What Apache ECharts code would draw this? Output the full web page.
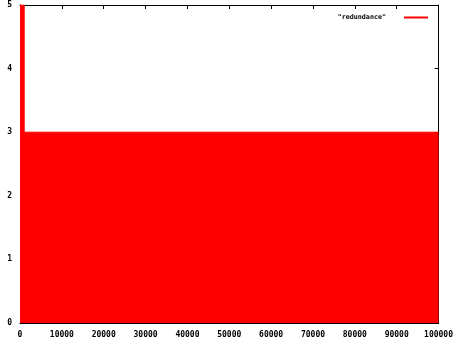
<!DOCTYPE html>
<html><head><meta charset="utf-8">
<script src="https://cdn.jsdelivr.net/npm/echarts@6/dist/echarts.min.js"></script>
<style>html,body{margin:0;padding:0;background:#fff}#c{width:456px;height:343px}</style>
</head><body><div id="c"></div>
<script>
const seriesName = '"redundance"';
const xValues = [0, 1000, 100000];
const yValues = [5, 3, 3];
const xTicks = [0, 10000, 20000, 30000, 40000, 50000, 60000, 70000, 80000, 90000, 100000];
const yTicks = [0, 1, 2, 3, 4, 5];

const font = {fontFamily: 'DejaVu Sans Mono', fontSize: 8, fontWeight: 'bold', color: '#000'};
const chart = echarts.init(document.getElementById('c'));
const axisBase = {
  type: 'value',
  axisLine: {show: true, onZero: false, lineStyle: {color: '#000', width: 1}},
  axisTick: {show: true, inside: true, length: 4, lineStyle: {color: '#000'}},
  splitLine: {show: false}
};
chart.setOption({
  animation: false,
  grid: {left: 20, right: 17, top: 5, bottom: 20, containLabel: false},
  legend: {
    show: true, right: 23, top: 9, icon: 'rect', itemWidth: 24, itemHeight: 2,
    align: 'right', itemGap: 0,
    textStyle: {fontFamily: 'DejaVu Sans Mono', fontSize: 6.7, fontWeight: 'bold', color: '#000', padding: [0, 13, 0, 0]},
    data: [seriesName]
  },
  xAxis: [
    Object.assign({}, axisBase, {min: xTicks[0], max: xTicks[xTicks.length-1], interval: 10000, position: 'bottom',
      axisLabel: Object.assign({margin: 8, formatter: v => String(v)}, font)}),
    Object.assign({}, axisBase, {min: xTicks[0], max: xTicks[xTicks.length-1], interval: 10000, position: 'top',
      axisLabel: {show: false}})
  ],
  yAxis: [
    Object.assign({}, axisBase, {min: yTicks[0], max: yTicks[yTicks.length-1], interval: 1, position: 'left',
      axisLabel: Object.assign({margin: 8, formatter: v => String(v)}, font)}),
    Object.assign({}, axisBase, {min: yTicks[0], max: yTicks[yTicks.length-1], interval: 1, position: 'right',
      axisLabel: {show: false}})
  ],
  series: [{
    name: seriesName, type: 'line', step: 'end', showSymbol: false, z: 1,
    data: xValues.map((x, i) => [x, yValues[i]]),
    lineStyle: {color: '#ff0000', width: 1},
    itemStyle: {color: '#ff0000'},
    areaStyle: {color: '#ff0000', opacity: 1}
  }]
});
</script></body></html>
